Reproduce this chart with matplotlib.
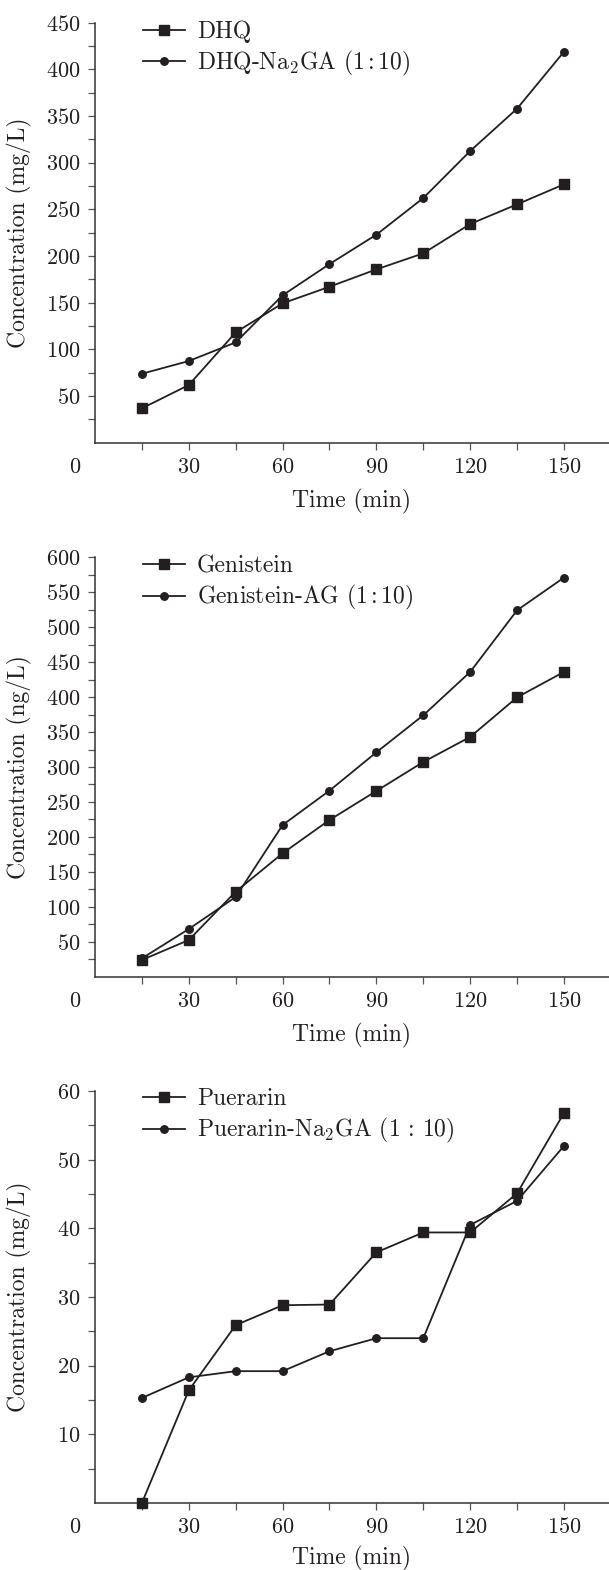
import matplotlib
matplotlib.use("Agg")
import matplotlib.pyplot as plt
import numpy as np

plt.rcParams['font.family'] = 'cmr10'
plt.rcParams['mathtext.fontset'] = 'cm'
plt.rcParams['axes.formatter.use_mathtext'] = True

# data
time = [15, 30, 45, 60, 75, 90, 105, 120, 135, 150]

dhq = [36.8, 61.8, 118.2, 149.3, 167.1, 185.7, 202.9, 234.3, 255.4, 276.8]
dhq_na2ga = [73.9, 87.5, 107.5, 157.9, 191.4, 222.9, 262.1, 312.5, 357.9, 418.9]

genistein = [23.9, 52.5, 121.6, 176.5, 224.2, 265.7, 307.2, 343.0, 399.7, 436.0]
genistein_ag = [26.2, 68.2, 114.0, 217.0, 266.2, 321.0, 374.0, 436.0, 524.2, 571.0]

puerarin = [0.0, 16.4, 25.9, 28.8, 28.9, 36.5, 39.4, 39.4, 45.1, 56.8]
puerarin_na2ga = [15.3, 18.3, 19.2, 19.2, 22.1, 24.0, 24.0, 40.5, 44.0, 52.0]

panels = [
    dict(sq=dhq, ci=dhq_na2ga, labels=["DHQ", r"DHQ-Na$_2$GA (1$\,$:$\,$10)"],
         ylabel="Concentration (mg/L)", ymax=450, ystep=50,
         top=22.7, bottom=442.7, leg_top=20.5, xl_off=46.0),
    dict(sq=genistein, ci=genistein_ag, labels=["Genistein", r"Genistein-AG (1$\,$:$\,$10)"],
         ylabel="Concentration (ng/L)", ymax=600, ystep=50,
         top=557.3, bottom=976.7, leg_top=555.0, xl_off=46.0),
    dict(sq=puerarin, ci=puerarin_na2ga, labels=["Puerarin", r"Puerarin-Na$_2$GA (1 : 10)"],
         ylabel="Concentration (mg/L)", ymax=60, ystep=10,
         top=1091.0, bottom=1503.0, leg_top=1088.0, xl_off=43.0),
]

W, H = 609, 1570
fig = plt.figure(figsize=(W / 100, H / 100), dpi=100)

left_px, right_px = 95.0, 609.0
col = '#231f20'
tickcol = '#555555'

for p in panels:
    ax = fig.add_axes([left_px / W, 1 - p['bottom'] / H,
                       (right_px - left_px) / W, (p['bottom'] - p['top']) / H])
    ax.plot(time, p['sq'], '-s', color=col, lw=1.3, ms=6.6, label=p['labels'][0],
            clip_on=False, zorder=3)
    ax.plot(time, p['ci'], '-o', color=col, lw=1.3, ms=5.4, label=p['labels'][1],
            clip_on=False, zorder=3)

    ax.set_xlim(0, 164.4)
    ax.set_ylim(0, p['ymax'])
    ax.set_xticks(np.arange(30, 151, 30))
    ax.set_xticks(np.arange(15, 151, 30), minor=True)
    ax.set_yticks(np.arange(p['ystep'], p['ymax'] + 1, p['ystep']))
    ax.set_yticks(np.arange(p['ystep'] / 2, p['ymax'], p['ystep']), minor=True)

    for s in ['top', 'right']:
        ax.spines[s].set_visible(False)
    for s in ['left', 'bottom']:
        ax.spines[s].set_color('#333333')
        ax.spines[s].set_linewidth(1.1)

    ax.tick_params(which='both', direction='out', length=5.3, width=0.9,
                   color=tickcol, labelsize=16, pad=5, labelcolor=col)

    # origin label
    ax.annotate('0', xy=(0, 0), xycoords='axes fraction', xytext=(-14.6, -10.3),
                textcoords='offset points', ha='center', va='top', fontsize=16,
                color=col)

    hpx = p['bottom'] - p['top']
    ax.set_xlabel('Time (min)', fontsize=17, color=col)
    ax.xaxis.set_label_coords(0.5, -p['xl_off'] / hpx)
    ax.set_ylabel(p['ylabel'], fontsize=17, color=col)
    ax.yaxis.set_label_coords(-63.0 / (right_px - left_px), 0.5)

    ax.legend(loc='upper left', bbox_to_anchor=(143.0 / W, 1 - p['leg_top'] / H),
              bbox_transform=fig.transFigure, frameon=False, fontsize=17,
              borderpad=0, borderaxespad=0, handlelength=1.78, handletextpad=0.5,
              labelspacing=0.26, labelcolor=col)

fig.savefig('out.png', dpi=100)
